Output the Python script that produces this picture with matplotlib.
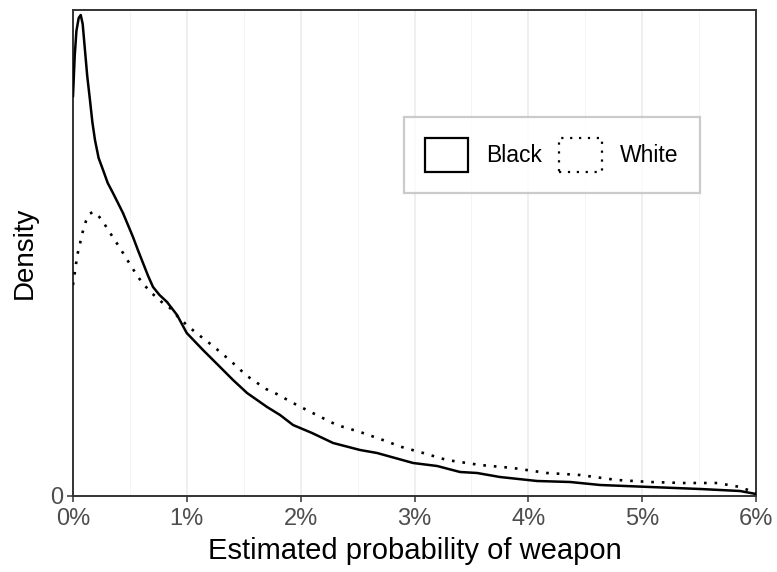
import matplotlib
matplotlib.use("Agg")
import matplotlib.pyplot as plt
from matplotlib.patches import Rectangle
from matplotlib.ticker import FuncFormatter

plt.rcParams['font.family'] = ['Liberation Sans', 'DejaVu Sans']

# Estimated probability (%) and density (arbitrary units)
black_x = [0.0, 0.015, 0.03, 0.05, 0.068, 0.085, 0.105, 0.125, 0.149, 0.17, 0.193, 0.225,
           0.264, 0.305, 0.351, 0.395, 0.439, 0.483, 0.527, 0.57, 0.615,
           0.66, 0.703, 0.76, 0.826, 0.914, 0.999, 1.142, 1.292, 1.406, 1.529, 1.705, 1.819,
           1.933, 2.1, 2.285, 2.522, 2.671, 2.988, 3.199, 3.40, 3.55, 3.75, 4.077, 4.367,
           4.631, 5.07, 5.51, 5.86, 6.0]
black_y = [400, 440, 465, 478, 481, 472, 446, 420, 396, 374, 356, 338,
           326, 313, 303, 293, 283, 271, 259, 246, 233,
           220, 209, 201, 194, 181, 163, 146, 129, 116, 103, 89, 81,
           71, 63, 53, 46, 43, 33, 30, 24, 23, 19, 15, 14,
           11, 9, 7, 5, 2]

white_x = [0.0, 0.038, 0.085, 0.114, 0.145, 0.173, 0.21, 0.246, 0.305, 0.354, 0.413, 0.466,
           0.516, 0.571, 0.633, 0.70, 0.779, 0.852, 0.923, 0.999, 1.072, 1.23, 1.386, 1.529,
           1.696, 1.79, 1.966, 2.141, 2.317, 2.522, 2.698, 2.888, 3.076, 3.284, 3.576,
           3.866, 4.163, 4.455, 4.778, 5.07, 5.36, 5.66, 5.86, 6.0]
white_y = [211, 241, 264, 275, 282, 284, 282, 277, 267, 258, 248, 238,
           229, 219, 210, 202, 194, 188, 179, 171, 164, 150, 135, 120,
           107, 102, 91, 81, 71, 64, 57, 49, 43, 36, 31,
           28, 23, 21, 16, 14, 13, 13, 9, 3]

groups = ["Black", "White"]
x_ticks = [0, 1, 2, 3, 4, 5, 6]
x_minor = [0.5, 1.5, 2.5, 3.5, 4.5, 5.5]

fig = plt.figure(figsize=(7.77, 5.72), dpi=100)
ax = fig.add_axes([73/777, 1-496/572, (756-73)/777, (496-10)/572])

for v in x_ticks:
    ax.axvline(v, color='#EBEBEB', lw=1.1, zorder=0)
for v in x_minor:
    ax.axvline(v, color='#F2F2F2', lw=0.6, zorder=0)

ax.plot(black_x, black_y, color='black', lw=1.8, solid_joinstyle='round', zorder=3)
ax.plot(white_x, white_y, color='black', lw=1.9, linestyle=(0, (1, 3)), zorder=3)

ax.set_xlim(0, 6)
ax.set_ylim(0, 486)
ax.set_xticks(x_ticks)
ax.xaxis.set_major_formatter(FuncFormatter(lambda v, p: f"{int(round(v))}%"))
ax.set_yticks([0])
ax.set_yticklabels(["0"])

for s in ax.spines.values():
    s.set_color('#333333')
    s.set_linewidth(1.4)

ax.tick_params(axis='both', colors='#333333', length=4.5, width=1.1,
               labelsize=17, labelcolor='#4D4D4D', pad=2.5)
ax.tick_params(axis='x', pad=4)

ax.set_xlabel("Estimated probability of weapon", fontsize=21, color='black', labelpad=5)
ax.set_ylabel("Density", fontsize=20, color='black', labelpad=9)

h1 = Rectangle((0, 0), 1, 1, facecolor='white', edgecolor='black', lw=1.6)
h2 = Rectangle((0, 0), 1, 1, facecolor='white', edgecolor='black', lw=1.6,
               linestyle=(0, (1, 3)))
leg = ax.legend([h1, h2], groups, loc='center', bbox_to_anchor=(0.701, 0.702),
                ncol=2, fontsize=16.5, handlelength=1.88, handleheight=1.88,
                handletextpad=0.79, columnspacing=0.74, borderpad=0.92,
                borderaxespad=0, fancybox=False, frameon=True)
leg.get_frame().set_edgecolor('#BEBEBE')
leg.get_frame().set_linewidth(1.6)

fig.savefig("out.png", dpi=100)
